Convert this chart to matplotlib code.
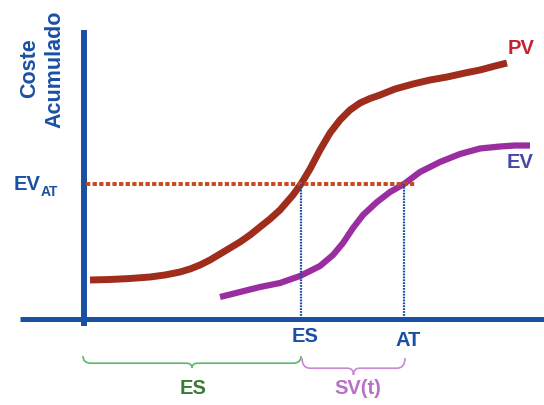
import numpy as np
import matplotlib.pyplot as plt
from matplotlib.path import Path
from matplotlib.patches import PathPatch

# curves (pixel coordinates, y downward)
pv_x = [90, 110, 130, 150, 165, 180, 190, 200, 210, 220, 230, 240, 250, 260, 270, 280, 293, 301,
        310, 320, 330, 340, 350, 360, 370, 380, 395, 413, 430, 447, 465, 480, 495, 507]
pv_y = [280, 279.5, 278.5, 277, 275, 272, 269, 265, 260, 254, 248, 242, 235, 227, 219, 210, 195, 184,
        169, 150, 133, 120, 110, 103, 98.5, 95, 89, 84, 80, 77, 73, 70, 66, 63]
ev_x = [220, 240, 260, 280, 300, 320, 333, 343, 353, 363, 377, 390, 404, 420, 440, 460, 480, 500,
        515, 530]
ev_y = [297, 292, 287, 283, 276, 266, 255, 243, 228, 215, 202, 192, 184, 172, 162, 154, 148.5, 146.5,
        145.5, 145.5]

es_x = 301   # ES on the time axis
at_x = 404   # AT on the time axis
ev_at = 184  # EV at AT level
origin_x = 84
axis_y = 319

blue = '#1a50a4'
plt.rcParams['font.family'] = ['Liberation Sans', 'DejaVu Sans']

fig = plt.figure(figsize=(5.44, 4.05), dpi=100)
ax = fig.add_axes([0, 0, 1, 1])
ax.set_xlim(0, 544)
ax.set_ylim(405, 0)
ax.axis('off')

# axes lines
ax.plot([origin_x, origin_x], [30, 326], color=blue, lw=4.3, solid_capstyle='butt')
ax.plot([20, 544], [axis_y, axis_y], color=blue, lw=3.6, solid_capstyle='butt')

# curves
ax.plot(pv_x, pv_y, color='#a02c1c', lw=5, solid_capstyle='butt', solid_joinstyle='round')
ax.plot(ev_x, ev_y, color='#9a2ea0', lw=4.5, solid_capstyle='butt', solid_joinstyle='round')

# reference lines
ax.plot([origin_x + 2, at_x + 11], [ev_at, ev_at], color='#c8481e', lw=2.8,
        dashes=(1.1, 0.6))
for x in [es_x, at_x]:
    ax.plot([x, x], [ev_at, axis_y], color=blue, lw=1.6, dashes=(0.8, 0.5))


def brace(x0, x1, y, h, color):
    xm = (x0 + x1) / 2
    verts = [(x0, y), (x0, y + h * 0.6), (x0 + 8, y + h * 0.6), (xm - 6, y + h * 0.6),
             (xm, y + h * 0.6), (xm, y + h),
             (xm, y + h * 0.6), (xm + 6, y + h * 0.6), (x1 - 8, y + h * 0.6),
             (x1, y + h * 0.6), (x1, y)]
    codes = [Path.MOVETO, Path.CURVE3, Path.CURVE3, Path.LINETO,
             Path.CURVE3, Path.CURVE3,
             Path.CURVE3, Path.CURVE3, Path.LINETO,
             Path.CURVE3, Path.CURVE3]
    ax.add_patch(PathPatch(Path(verts, codes), fill=False, edgecolor=color, lw=1.2))


brace(origin_x - 1, es_x, 356, 12, '#5cb86c')
brace(es_x + 1, at_x + 1, 358, 17, '#c888d4')

# texts
ax.text(30, 68, 'Coste', rotation=90, ha='center', va='center', color=blue,
        fontsize=15.5, fontweight='bold')
ax.text(55, 69, 'Acumulado', rotation=90, ha='center', va='center', color=blue,
        fontsize=15.5, fontweight='bold')
ax.text(14, 185, 'EV', ha='left', va='center', color=blue, fontsize=14.5, fontweight='bold')
ax.text(41, 192, 'AT', ha='left', va='center', color=blue, fontsize=10, fontweight='bold')
ax.text(305, 337, 'ES', ha='center', va='center', color=blue, fontsize=14.5, fontweight='bold')
ax.text(408, 340, 'AT', ha='center', va='center', color=blue, fontsize=14.5, fontweight='bold')
ax.text(521, 48, 'PV', ha='center', va='center', color='#c42036', fontsize=14.5, fontweight='bold')
ax.text(520, 163, 'EV', ha='center', va='center', color='#4848a4', fontsize=14.5, fontweight='bold')
ax.text(193, 388, 'ES', ha='center', va='center', color='#3a7a34', fontsize=14.5, fontweight='bold')
ax.text(358, 388, 'SV(t)', ha='center', va='center', color='#b870c8', fontsize=14.5, fontweight='bold')

fig.savefig('out.png', dpi=100, facecolor='white')
